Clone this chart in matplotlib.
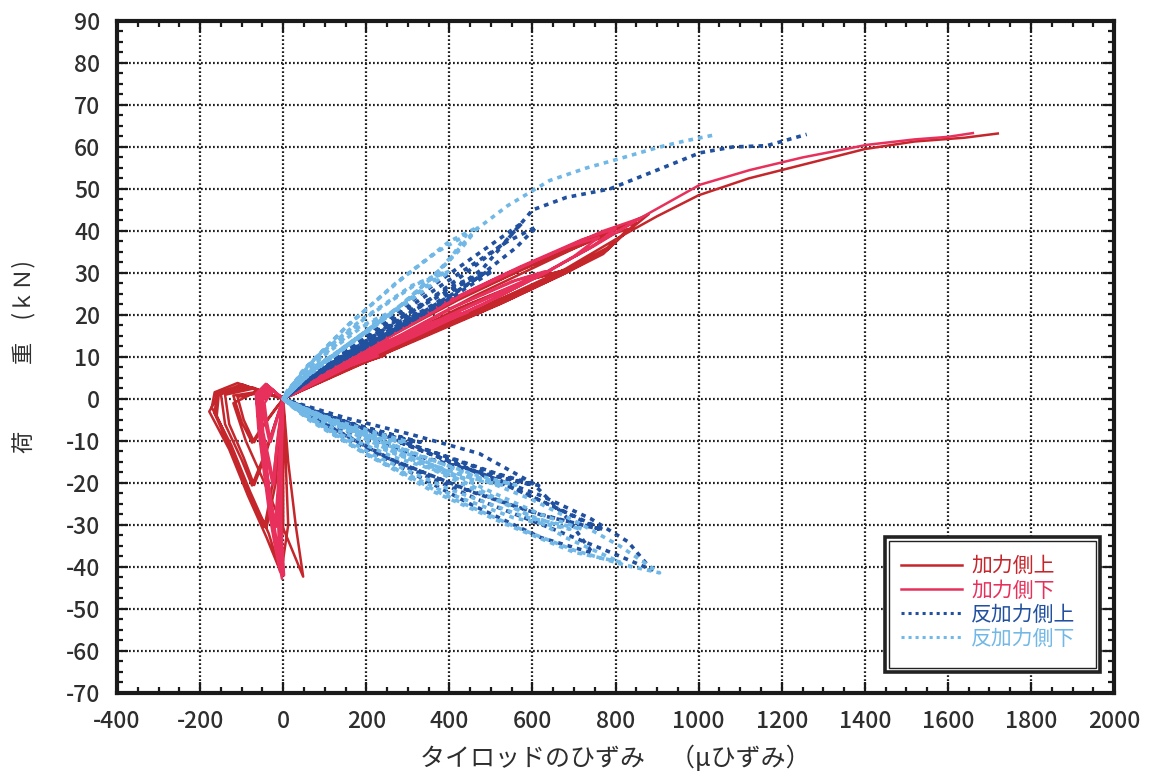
import numpy as np
import matplotlib
matplotlib.use("Agg")
import matplotlib.pyplot as plt
from matplotlib.patches import Rectangle
from matplotlib.lines import Line2D
from matplotlib.ticker import MultipleLocator

plt.rcParams['font.family'] = ['Noto Sans CJK JP', 'DejaVu Sans']
plt.rcParams['axes.unicode_minus'] = False

# Tie-rod strain (micro-strain) vs load (kN), traced as cyclic load history.
# Each entry is one half-cycle: [(strain, load), ...]; last entry is the final push.

# 加力側上 (loading side, upper gauge)
loading_upper = [
    [(0, 0), (70, 3.5), (160, 7.5), (235, 10.3), (170, 8), (80, 4)],
    [(0, 0), (-50, 1.5), (-110, 0.5), (-95, -5), (-70, -10.3), (-45, -6), (-15, -2)],
    [(0, 0), (80, 3.8), (170, 7.8), (245, 10.4), (180, 8.3), (90, 4.4)],
    [(0, 0), (-55, 1.8), (-120, 0.8), (-100, -5.5), (-75, -10.4), (-50, -6.5), (-18, -2.2)],
    [(0, 0), (100, 5), (230, 11), (360, 16.5), (465, 20.5), (380, 18), (240, 12.5), (110, 6)],
    [(0, 0), (-70, 2.5), (-140, 1), (-130, -6), (-95, -14), (-70, -20.5), (-45, -14), (-20, -6)],
    [(0, 0), (110, 5.2), (250, 11.4), (380, 17), (480, 20.8), (390, 18.4), (250, 12.8), (120, 6.3)],
    [(0, 0), (-75, 2.8), (-150, 1.2), (-140, -6), (-100, -14.5), (-75, -20.6), (-50, -14.5), (-22, -6.5)],
    [(0, 0), (120, 6), (260, 12.5), (420, 19.5), (560, 25.5), (670, 30.5), (580, 28), (420, 21.5), (250, 13), (100, 5.5)],
    [(0, 0), (-90, 3), (-155, 1.2), (-160, -4), (-115, -14), (-75, -24), (-45, -30.5), (-25, -20), (-12, -8)],
    [(0, 0), (130, 6.2), (280, 13), (440, 20), (580, 26), (690, 31), (600, 28.6), (440, 22.2), (270, 13.8), (110, 6)],
    [(0, 0), (-95, 3.2), (-160, 1.4), (-165, -3.5), (-120, -13.5), (-80, -23.5), (-40, -30.6), (-18, -20), (-8, -8)],
    [(0, 0), (150, 7), (320, 14.5), (500, 22), (650, 29), (780, 36), (880, 44), (800, 40.5), (640, 33), (460, 24.5), (280, 15), (110, 6)],
    [(0, 0), (-100, 3.5), (-154, 1.4), (-178, -3), (-130, -12), (-85, -23), (-40, -33), (-5, -41.5), (12, -30), (6, -15)],
    [(0, 0), (160, 7.2), (340, 14.8), (520, 22.5), (670, 29.5), (770, 34.5), (850, 42), (760, 39), (600, 32), (420, 23.5), (250, 14.5), (100, 6)],
    [(0, 0), (-110, 3.8), (-165, 1.6), (-172, -2), (-125, -11), (-80, -22), (-35, -32), (-10, -40), (0, -30), (0, -15)],
    [(0, 0), (170, 7.5), (350, 15.5), (530, 23), (680, 30), (780, 35.5), (830, 40.5), (740, 37.5), (580, 31), (400, 23), (240, 14), (90, 5.5)],
    [(0, 0), (-60, 2), (-120, -1), (-90, -10), (-45, -20), (5, -32), (48, -42.3), (30, -30), (12, -15)],
    [(0, 0), (160, 7.5), (340, 15), (520, 23), (680, 31), (800, 38), (900, 43.5), (1000, 48.5), (1120, 52.5),
     (1260, 56), (1400, 59.5), (1520, 61.3), (1640, 62.2), (1720, 63.2)],
]

# 加力側下 (loading side, lower gauge)
loading_lower = [
    [(0, 0), (60, 3.5), (150, 7.5), (220, 10.2), (160, 8), (70, 4)],
    [(0, 0), (-25, 2), (-45, -1), (-40, -5), (-30, -10.2), (-18, -6), (-6, -2)],
    [(0, 0), (65, 3.6), (155, 7.7), (228, 10.3), (165, 8.1), (75, 4.1)],
    [(0, 0), (-28, 2.2), (-50, -0.5), (-45, -5), (-33, -10.3), (-20, -6), (-8, -2)],
    [(0, 0), (90, 5), (210, 11), (330, 16.5), (430, 20.4), (350, 18), (220, 12.5), (100, 6)],
    [(0, 0), (-30, 2.5), (-55, -1), (-48, -8), (-35, -14), (-22, -20.4), (-15, -12), (-5, -4)],
    [(0, 0), (95, 5.1), (220, 11.2), (345, 16.8), (445, 20.6), (360, 18.2), (230, 12.7), (105, 6.1)],
    [(0, 0), (-32, 2.6), (-58, -0.5), (-50, -8), (-38, -14.5), (-25, -20.5), (-17, -12.5), (-6, -4.5)],
    [(0, 0), (110, 6), (240, 12.5), (390, 19.5), (520, 25.5), (630, 30.4), (550, 28), (400, 21.5), (240, 13), (90, 5.5)],
    [(0, 0), (-35, 3), (-60, 0), (-52, -8), (-40, -17), (-28, -25), (-18, -30.5), (-10, -20), (-4, -8)],
    [(0, 0), (115, 6.1), (250, 12.7), (400, 19.8), (535, 25.8), (645, 30.6), (560, 28.2), (410, 21.8), (250, 13.3), (95, 5.7)],
    [(0, 0), (-38, 3.2), (-62, 0.5), (-55, -8), (-42, -16.5), (-30, -24.5), (-20, -30.6), (-12, -20), (-5, -8)],
    [(0, 0), (140, 7), (300, 14.5), (470, 22), (620, 29.5), (750, 36.5), (858, 43), (770, 40), (610, 33), (430, 24.5), (260, 15), (100, 6)],
    [(0, 0), (-40, 3.5), (-65, 1), (-58, -7), (-45, -17), (-32, -27), (-18, -35), (-3, -42.8), (-8, -30), (-6, -15)],
    [(0, 0), (145, 7.2), (310, 15), (480, 22.5), (630, 30), (740, 36), (800, 40.5), (720, 38), (570, 31.5), (400, 23.5), (240, 14.5), (95, 6)],
    [(0, 0), (-42, 3.6), (-66, 1.2), (-60, -7), (-47, -17), (-34, -27), (-20, -35), (-8, -41), (-12, -30), (-10, -15)],
    [(0, 0), (150, 7.4), (320, 15.4), (490, 23), (620, 29.5), (700, 34), (760, 38.5), (680, 36), (540, 30), (380, 22.5), (230, 14), (90, 5.8)],
    [(0, 0), (-38, 3.2), (-60, 0.5), (-50, -8), (-38, -18), (-25, -28), (-12, -36), (2, -42), (-5, -30), (-4, -15)],
    [(0, 0), (150, 7.5), (330, 15.5), (500, 23.5), (650, 31), (780, 38.5), (880, 44.2), (1003, 51), (1123, 54.5),
     (1250, 57.5), (1405, 60.5), (1520, 61.8), (1600, 62.4), (1660, 63.3)],
]

# 反加力側上 (opposite side, upper gauge)
reaction_upper = [
    [(0, 0), (40, 3.5), (100, 7), (150, 10.2), (110, 8), (50, 4)],
    [(0, 0), (60, -2.5), (150, -5.5), (260, -8.5), (320, -10.2), (230, -8.3), (120, -5), (30, -1.5)],
    [(0, 0), (45, 3.6), (108, 7.2), (160, 10.3), (118, 8.2), (55, 4.1)],
    [(0, 0), (65, -2.6), (160, -5.7), (270, -8.7), (330, -10.3), (240, -8.5), (130, -5.2), (35, -1.6)],
    [(0, 0), (60, 5), (150, 10.5), (240, 15.5), (320, 20.3), (250, 17), (140, 10), (50, 4)],
    [(0, 0), (90, -3.5), (220, -8), (370, -13), (500, -17.5), (600, -20.5), (470, -17.5), (320, -13.5), (160, -8), (40, -2.5)],
    [(0, 0), (65, 5.1), (160, 10.7), (255, 15.8), (335, 20.4), (260, 17.2), (150, 10.2), (55, 4.1)],
    [(0, 0), (95, -3.6), (230, -8.3), (385, -13.4), (515, -17.8), (615, -20.6), (485, -17.8), (335, -13.8), (170, -8.3), (45, -2.6)],
    [(0, 0), (80, 6), (190, 12), (300, 18.5), (400, 24.5), (490, 30.3), (410, 27), (270, 19), (130, 10), (30, 3)],
    [(0, 0), (110, -4), (260, -9.5), (420, -15.5), (560, -21.5), (680, -27), (760, -31), (620, -27.5), (440, -21.5), (250, -14), (90, -5.5)],
    [(0, 0), (85, 6.1), (200, 12.3), (315, 18.9), (415, 24.8), (505, 30.5), (425, 27.3), (285, 19.4), (140, 10.3), (35, 3.2)],
    [(0, 0), (115, -4.2), (270, -9.9), (430, -16), (570, -22), (690, -27.4), (770, -31.1), (630, -27.9), (450, -22), (260, -14.4), (95, -5.7)],
    [(0, 0), (100, 7), (230, 14), (360, 21.5), (470, 29), (560, 36), (610, 41), (540, 37.5), (410, 29), (260, 19), (120, 9)],
    [(0, 0), (130, -5), (300, -11), (470, -17.5), (620, -23), (740, -28.5), (830, -34), (887, -40.7), (800, -37), (650, -31), (470, -24), (280, -15.5), (100, -6)],
    [(0, 0), (90, 7), (210, 14.5), (330, 22), (440, 30), (530, 37), (576, 42), (490, 36), (360, 27), (220, 17), (90, 7)],
    [(0, 0), (150, -4.5), (310, -8.5), (472, -13), (600, -20), (680, -28), (745, -36.7), (620, -33), (450, -25), (260, -15), (90, -6)],
    [(0, 0), (100, 7.5), (240, 15.5), (370, 23), (480, 31), (545, 38.6), (600, 45), (682, 48), (786, 50), (900, 54.5),
     (1003, 58.6), (1082, 60), (1164, 60.3), (1260, 63)],
]

# 反加力側下 (opposite side, lower gauge)
reaction_lower = [
    [(0, 0), (30, 3.5), (80, 7.5), (115, 10.2), (80, 8), (30, 3.5)],
    [(0, 0), (50, -2.5), (140, -5.5), (240, -8.5), (300, -10.2), (210, -8.5), (110, -5), (20, -1.2)],
    [(0, 0), (35, 3.6), (85, 7.6), (122, 10.3), (86, 8.1), (34, 3.6)],
    [(0, 0), (45, -2.7), (130, -5.8), (225, -8.8), (285, -10.3), (200, -8.7), (100, -5.2), (18, -1.3)],
    [(0, 0), (50, 5), (120, 10.5), (190, 15.5), (250, 20.3), (180, 17), (90, 10), (20, 3)],
    [(0, 0), (80, -3.5), (200, -8.5), (340, -14), (460, -18), (560, -20.5), (430, -18), (280, -13.5), (130, -7.5), (30, -2)],
    [(0, 0), (55, 5.1), (128, 10.7), (200, 15.8), (262, 20.4), (190, 17.2), (96, 10.2), (24, 3.1)],
    [(0, 0), (75, -3.8), (190, -9), (325, -14.5), (440, -18.5), (530, -20.6), (410, -18.3), (265, -13.8), (120, -7.7), (25, -2.1)],
    [(0, 0), (60, 6), (150, 12.5), (240, 19), (320, 25), (390, 30.3), (310, 27), (190, 19), (80, 10), (10, 2)],
    [(0, 0), (100, -4.5), (240, -10.5), (390, -17), (520, -23), (620, -27.5), (720, -31), (580, -28), (400, -21.5), (220, -13.5), (70, -5)],
    [(0, 0), (65, 6.2), (158, 12.8), (250, 19.4), (332, 25.3), (402, 30.5), (320, 27.3), (198, 19.3), (86, 10.2), (12, 2.1)],
    [(0, 0), (95, -4.8), (230, -11), (375, -17.5), (500, -23.5), (600, -28), (690, -31), (555, -28.3), (385, -22), (210, -13.8), (65, -5.2)],
    [(0, 0), (70, 7), (180, 14.5), (280, 22), (370, 30), (430, 36), (470, 41), (400, 37.5), (290, 29), (160, 18), (50, 7)],
    [(0, 0), (120, -5), (280, -11.5), (450, -18), (600, -24), (720, -30), (810, -35), (906, -41.4), (820, -39.5), (700, -36),
     (560, -30.5), (380, -22.5), (200, -13), (60, -4.5)],
    [(0, 0), (75, 7.2), (185, 15), (285, 22.5), (360, 29), (410, 34.5), (440, 39), (370, 35), (270, 27.5), (150, 17), (45, 6.5)],
    [(0, 0), (110, -5), (260, -12), (420, -19), (560, -26), (680, -33), (810, -38.8), (700, -36.5), (540, -30), (360, -22), (180, -12), (50, -4)],
    [(0, 0), (80, 7.5), (190, 15.5), (300, 23.5), (390, 32), (460, 40), (540, 46), (641, 52), (730, 55), (802, 57),
     (906, 60), (970, 61.5), (1040, 62.9)],
]

series_labels = ['加力側上', '加力側下', '反加力側上', '反加力側下']
series_colors = ['#c4262c', '#e8305c', '#21509e', '#72b8e6']

x_ticks = list(range(-400, 2001, 200))
y_ticks = list(range(-70, 91, 10))


def history(segments):
    pts = np.array([p for seg in segments for p in seg] + [segments[-1][-1]], dtype=float)
    return pts[:, 0], pts[:, 1]


fig = plt.figure(figsize=(11.52, 7.76), dpi=100)
ax = fig.add_axes([0.1016, 0.107, 0.8655, 0.866])

dot_style = (0, (1.3, 1.4))
draw_order = [
    (reaction_lower, 3, dot_style, 2.6),
    (reaction_upper, 2, dot_style, 2.6),
    (loading_upper, 0, '-', 1.8),
    (loading_lower, 1, '-', 1.8),
]
for segs, idx, ls, lw in draw_order:
    xs, ys = history(segs)
    ax.plot(xs, ys, color=series_colors[idx], linestyle=ls, linewidth=lw, zorder=3 + idx * 0.1)

ax.set_xlim(-400, 2000)
ax.set_ylim(-70, 90)
ax.set_xticks(x_ticks)
ax.set_yticks(y_ticks)
ax.xaxis.set_minor_locator(MultipleLocator(50))
ax.yaxis.set_minor_locator(MultipleLocator(2.5))
ax.tick_params(which='both', direction='in', top=True, right=True, width=1.6, colors='#1a1a1a')
ax.tick_params(which='major', length=8, labelsize=16.5, pad=12, labelcolor='#2e2e2e')
ax.tick_params(which='minor', length=4.5)
for lab in ax.get_xticklabels() + ax.get_yticklabels():
    lab.set_fontweight('medium')
ax.grid(True, which='major', color='#222222', linestyle=(0, (0.8, 1.0)), linewidth=1.6)
ax.set_axisbelow(True)
for sp in ax.spines.values():
    sp.set_linewidth(3)
    sp.set_color('#1a1a1a')

ax.set_xlabel('タイロッドのひずみ　（μひずみ）', fontsize=18, color='#2e2e2e')
ax.xaxis.set_label_coords(0.5, -0.078)
ax.set_ylabel('荷　　　重　(ｋＮ)', fontsize=16, color='#2e2e2e')
ax.yaxis.set_label_coords(-0.082, 0.5)

# Legend inside a double-ruled box
x0, y0, x1, y1 = 0.770, 0.031, 0.986, 0.232
ax.add_patch(Rectangle((x0, y0), x1 - x0, y1 - y0, transform=ax.transAxes,
                       facecolor='white', edgecolor='#222222', linewidth=2.6, zorder=10))
ax.add_patch(Rectangle((x0 + 0.0045, y0 + 0.0065), x1 - x0 - 0.009, y1 - y0 - 0.013,
                       transform=ax.transAxes, facecolor='none', edgecolor='#222222',
                       linewidth=1.0, zorder=10))
handles = [
    Line2D([], [], color=series_colors[0], linewidth=1.8),
    Line2D([], [], color=series_colors[1], linewidth=1.8),
    Line2D([], [], color=series_colors[2], linewidth=2.2, linestyle=(0, (1, 1.3))),
    Line2D([], [], color=series_colors[3], linewidth=2.2, linestyle=(0, (1, 1.3))),
]
leg = ax.legend(handles, series_labels, loc='center', bbox_to_anchor=((x0 + x1) / 2 - 0.004, (y0 + y1) / 2 + 0.003),
                frameon=False, fontsize=15, handlelength=2.9, handletextpad=0.45, labelspacing=0.1,
                borderpad=0.2)
leg.set_zorder(11)
for txt, c in zip(leg.get_texts(), series_colors):
    txt.set_color(c)

fig.savefig('out.png', dpi=100, facecolor='white')
